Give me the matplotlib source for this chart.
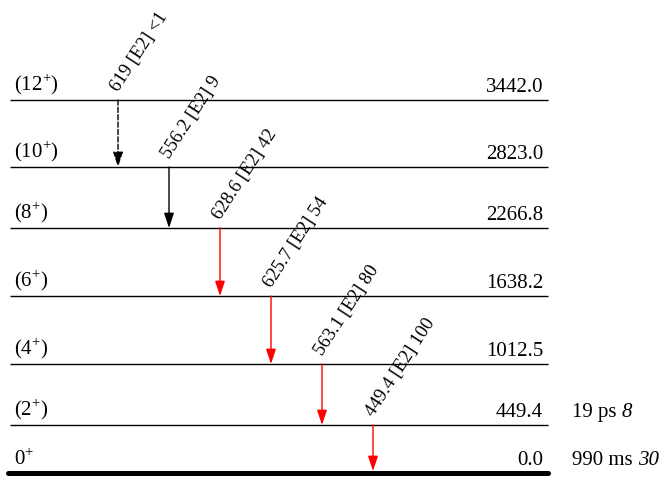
import matplotlib
matplotlib.use("Agg")
import matplotlib.pyplot as plt

plt.rcParams['font.family'] = ['Liberation Serif', 'DejaVu Serif']
plt.rcParams['mathtext.fontset'] = 'custom'
plt.rcParams['mathtext.rm'] = 'Liberation Serif'

# levels, top to bottom
spins = ['(12$^{+}$)', '(10$^{+}$)', '(8$^{+}$)', '(6$^{+}$)', '(4$^{+}$)', '(2$^{+}$)', '0$^{+}$']
energies = ['3442.0', '2823.0', '2266.8', '1638.2', '1012.5', '449.4', '0.0']
halflives = ['', '', '', '', '', '19 ps', '990 ms']
hl_unc = ['', '', '', '', '', '8', '30']

# transitions (from level index i to i+1)
gammas = ['619', '556.2', '628.6', '625.7', '563.1', '449.4']
mult = ['[E2]', '[E2]', '[E2]', '[E2]', '[E2]', '[E2]']
intens = ['<1', '9', '42', '54', '80', '100']
tentative = [True, False, False, False, False, False]
colors = ['black', 'black', 'red', 'red', 'red', 'red']

# drawing layout (pixel-like coords)
level_y = [100, 167, 228, 296, 364, 425, 473]
x0, x1 = 10, 548
arrow_x0, arrow_dx = 118, 51

fig = plt.figure(figsize=(6.6, 4.78), dpi=100)
ax = fig.add_axes([0, 0, 1, 1])
ax.set_xlim(0, 660)
ax.set_ylim(478, 0)
ax.axis('off')

for i, y in enumerate(level_y):
    ground = i == len(level_y) - 1
    ax.plot([x0 - (2 if ground else 0), x1], [y, y], color='black',
            lw=3.6 if ground else 1.0, solid_capstyle='round' if ground else 'butt')
    ax.text(14, y - 3, spins[i], fontsize=15, ha='left', va='bottom')
    ax.text(543, y - 3, energies[i], fontsize=15, ha='right', va='bottom')
    if halflives[i]:
        t = ax.text(572, y - 3, halflives[i] + ' ', fontsize=15, ha='left', va='bottom')
        ax.annotate(hl_unc[i], xy=(1, 0), xycoords=t, fontsize=15,
                    style='italic', ha='left', va='bottom')

for k in range(len(gammas)):
    x = arrow_x0 + k * arrow_dx
    ytop = level_y[k]
    ybot = level_y[k + 1] - (2 if k + 1 == len(level_y) - 1 else 0)
    ax.annotate('', xy=(x, ybot), xytext=(x, ytop),
                arrowprops=dict(arrowstyle='-|>,head_length=0.9,head_width=0.3',
                                color=colors[k], lw=1.0,
                                linestyle='--' if tentative[k] else '-',
                                shrinkA=0, shrinkB=0))
    ax.text(x + 4, ytop - 5, f'{gammas[k]} {mult[k]} {intens[k]}', fontsize=13.5,
            rotation=57, rotation_mode='anchor', ha='left', va='bottom')

fig.savefig('out.png', dpi=100)
